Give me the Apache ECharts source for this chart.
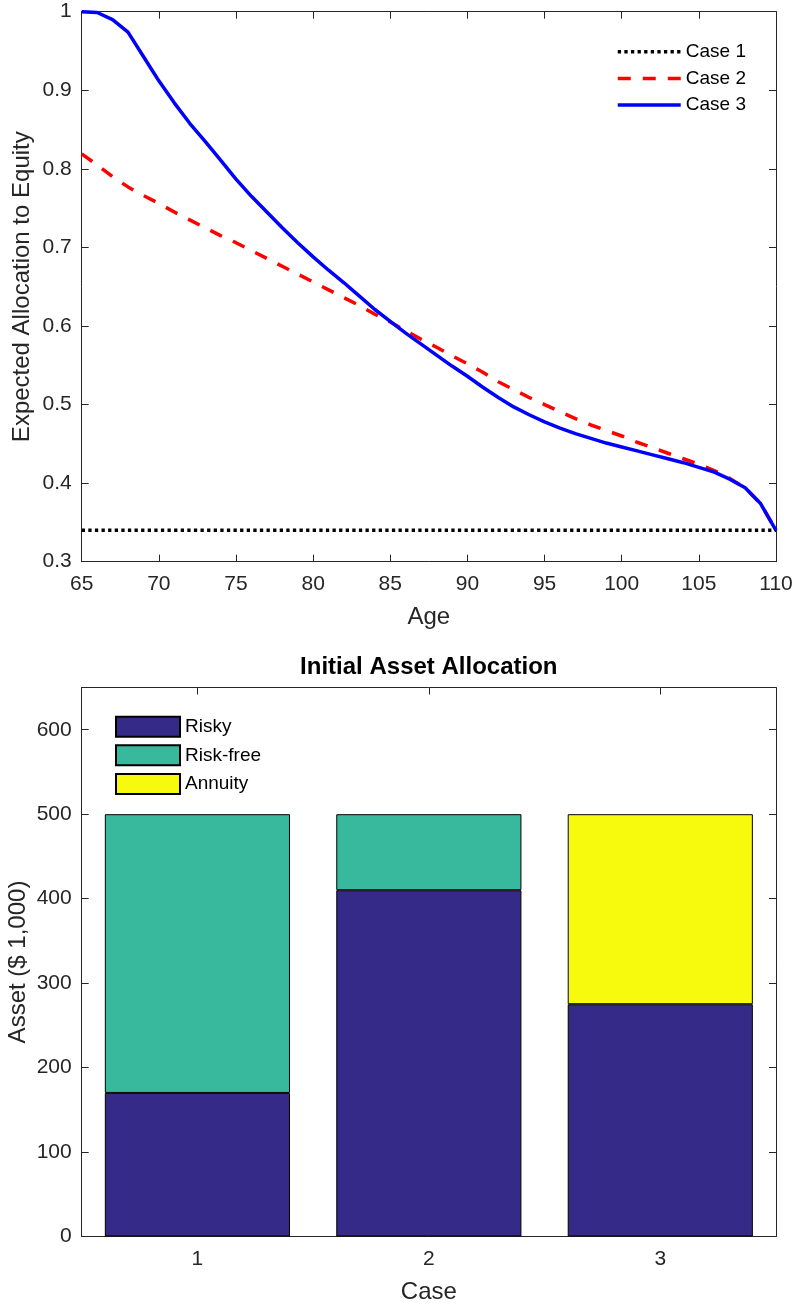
<!DOCTYPE html>
<html><head><meta charset="utf-8">
<script src="https://cdn.jsdelivr.net/npm/echarts@6/dist/echarts.min.js"></script>
<style>html,body{margin:0;padding:0;background:#fff}#c{width:796px;height:1307px}</style>
</head><body><div id="c"></div>
<script>
// ---------- Top chart data ----------
const ages = [65,66,67,68,69,70,71,72,73,74,75,76,77,78,79,80,81,82,83,84,85,86,87,88,89,90,91,92,93,94,95,96,97,98,99,100,101,102,103,104,105,106,107,108,109,110];
const case1 = [0.34,0.34,0.34,0.34,0.34,0.34,0.34,0.34,0.34,0.34,0.34,0.34,0.34,0.34,0.34,0.34,0.34,0.34,0.34,0.34,0.34,0.34,0.34,0.34,0.34,0.34,0.34,0.34,0.34,0.34,0.34,0.34,0.34,0.34,0.34,0.34,0.34,0.34,0.34,0.34,0.34,0.34,0.34,0.34,0.34,0.34];
const case2 = [0.819,0.805,0.790,0.777,0.766,0.756,0.745,0.735,0.725,0.715,0.706,0.696,0.686,0.676,0.666,0.656,0.646,0.636,0.626,0.615,0.605,0.594,0.583,0.573,0.562,0.552,0.541,0.529,0.519,0.509,0.500,0.491,0.482,0.474,0.467,0.460,0.452,0.445,0.438,0.431,0.424,0.416,0.406,0.394,0.374,0.340];
const case3 = [1.000,0.999,0.990,0.974,0.943,0.912,0.884,0.858,0.835,0.811,0.787,0.765,0.745,0.725,0.706,0.688,0.671,0.655,0.638,0.621,0.606,0.591,0.577,0.563,0.549,0.536,0.522,0.509,0.497,0.487,0.478,0.470,0.463,0.457,0.451,0.446,0.441,0.436,0.431,0.426,0.420,0.414,0.405,0.394,0.374,0.340];
const lineNames = ['Case 1','Case 2','Case 3'];

// ---------- Bottom chart data ----------
const caseCategories = ['1','2','3'];
const barNames = ['Risky','Risk-free','Annuity'];
const risky = [170, 410, 275];
const riskFree = [330, 90, '-'];
const annuity = ['-', '-', 225];

const FONT = "'Liberation Sans', Arial, Helvetica, sans-serif";
const AX = '#262626';

function pairs(xs, ys){ return xs.map((x,i)=>[x, ys[i]]); }

const axisLineStyle = {show:true, onZero:false, lineStyle:{color:AX, width:1}};
const tickStyle = {show:true, inside:true, length:7, lineStyle:{color:AX, width:1}};
const labelStyle = {fontSize:21, color:AX, fontFamily:FONT};
const nameStyle = {fontSize:24, color:AX, fontFamily:FONT};

const chart = echarts.init(document.getElementById('c'), null, {renderer:'canvas'});
chart.setOption({
  animation:false,
  backgroundColor:'#fff',
  textStyle:{fontFamily:FONT},
  title:{
    text:'Initial Asset Allocation', left:428.8, top:655.5, textAlign:'center', padding:0,
    textStyle:{fontSize:24, fontWeight:'bold', color:'#000', fontFamily:FONT}
  },
  grid:[
    {left:81.7, top:11.7, width:694.3, height:550, outerBoundsMode:'none', containLabel:false},
    {left:81.7, top:687.5, width:694.3, height:549, outerBoundsMode:'none', containLabel:false}
  ],
  legend:[
    {data:lineNames, orient:'vertical', left:616, top:41.7, padding:0,
     itemWidth:63, itemHeight:20, itemGap:6.7,
     itemStyle:{color:'rgba(0,0,0,0)', borderWidth:0, opacity:0},
     lineStyle:{width:3.5, cap:'butt'},
     textStyle:{fontSize:19, color:'#000', fontFamily:FONT, lineHeight:20}},
    {data:barNames, orient:'vertical', left:115, top:715.7, padding:0, icon:'rect',
     itemWidth:64, itemHeight:20, itemGap:6.6,
     textStyle:{fontSize:19, color:'#000', fontFamily:FONT, lineHeight:20}}
  ],
  xAxis:[
    {gridIndex:0, type:'value', min:65, max:110, interval:5, position:'bottom',
     name:'Age', nameLocation:'middle', nameGap:44, nameTextStyle:nameStyle,
     axisLine:axisLineStyle, axisTick:tickStyle, axisLabel:Object.assign({margin:12}, labelStyle),
     splitLine:{show:false}},
    {gridIndex:0, type:'value', min:65, max:110, interval:5, position:'top',
     axisLine:axisLineStyle, axisTick:tickStyle, axisLabel:{show:false}, splitLine:{show:false}},
    {gridIndex:1, type:'category', data:caseCategories, position:'bottom',
     name:'Case', nameLocation:'middle', nameGap:44, nameTextStyle:nameStyle,
     axisLine:axisLineStyle, axisTick:Object.assign({alignWithLabel:true}, tickStyle),
     axisLabel:Object.assign({margin:12}, labelStyle), splitLine:{show:false}},
    {gridIndex:1, type:'category', data:caseCategories, position:'top',
     axisLine:axisLineStyle, axisTick:Object.assign({alignWithLabel:true}, tickStyle),
     axisLabel:{show:false}, splitLine:{show:false}}
  ],
  yAxis:[
    {gridIndex:0, type:'value', min:0.3, max:1, interval:0.1, position:'left',
     name:'Expected Allocation to Equity', nameLocation:'middle', nameGap:47, nameMoveOverlap:false,
     nameTextStyle:nameStyle,
     axisLine:axisLineStyle, axisTick:tickStyle, axisLabel:Object.assign({margin:10}, labelStyle),
     splitLine:{show:false}},
    {gridIndex:0, type:'value', min:0.3, max:1, interval:0.1, position:'right',
     axisLine:axisLineStyle, axisTick:tickStyle, axisLabel:{show:false}, splitLine:{show:false}},
    {gridIndex:1, type:'value', min:0, max:650, interval:100, position:'left',
     name:'Asset ($ 1,000)', nameLocation:'middle', nameGap:51, nameMoveOverlap:false,
     nameTextStyle:nameStyle,
     axisLine:axisLineStyle, axisTick:tickStyle,
     axisLabel:Object.assign({margin:10, showMaxLabel:false}, labelStyle),
     splitLine:{show:false}},
    {gridIndex:1, type:'value', min:0, max:650, interval:100, position:'right',
     axisLine:axisLineStyle, axisTick:tickStyle, axisLabel:{show:false}, splitLine:{show:false}}
  ],
  series:[
    {name:'Case 1', type:'line', xAxisIndex:0, yAxisIndex:0, data:pairs(ages, case1),
     symbol:'none', color:'#000000',
     lineStyle:{color:'#000000', width:3.5, type:[3.3,3.3], cap:'butt'}},
    {name:'Case 2', type:'line', xAxisIndex:0, yAxisIndex:0, data:pairs(ages, case2),
     symbol:'none', color:'#ff0000',
     lineStyle:{color:'#ff0000', width:3.5, type:[13,12], cap:'butt'}},
    {name:'Case 3', type:'line', xAxisIndex:0, yAxisIndex:0, data:pairs(ages, case3),
     symbol:'none', color:'#0000ff',
     lineStyle:{color:'#0000ff', width:3.5}},
    {name:'Risky', type:'bar', xAxisIndex:2, yAxisIndex:2, stack:'assets', data:risky, barWidth:'80%',
     itemStyle:{color:'#352a87', borderColor:'#000', borderWidth:1}},
    {name:'Risk-free', type:'bar', xAxisIndex:2, yAxisIndex:2, stack:'assets', data:riskFree, barWidth:'80%',
     itemStyle:{color:'#38b99e', borderColor:'#000', borderWidth:1}},
    {name:'Annuity', type:'bar', xAxisIndex:2, yAxisIndex:2, stack:'assets', data:annuity, barWidth:'80%',
     itemStyle:{color:'#f8fa0d', borderColor:'#000', borderWidth:1}}
  ]
});
</script>
</body></html>
